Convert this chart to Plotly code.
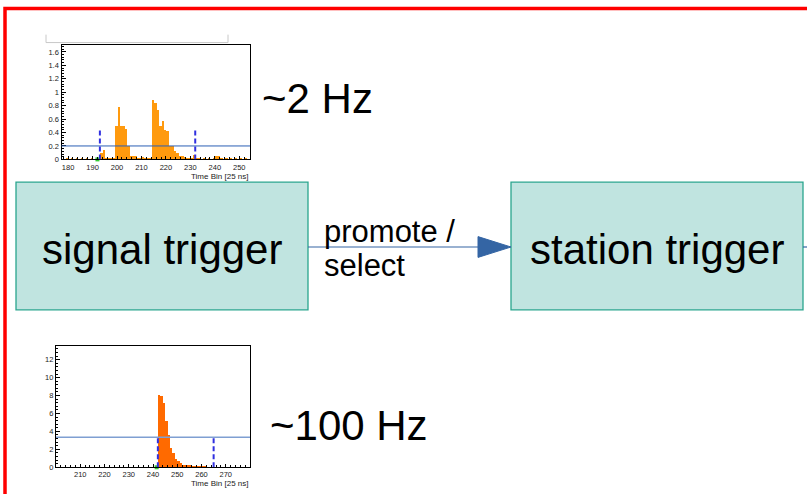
import plotly.graph_objects as go

# ---- data -------------------------------------------------------------
# upper histogram: signal-trigger trace (~2 Hz)
top_first_bin = 178
top_values = [
    0.01, 0.02, 0.01, 0.02, 0.01, 0.02, 0.01, 0.02, 0.01, 0.02,   # 178-187
    0.01, 0.02, 0.01, 0.01, 0.02, 0.10, 0.14, 0.02, 0.02, 0.02,   # 188-197
    0.03, 0.50, 0.78, 0.50, 0.50, 0.46, 0.20, 0.06, 0.05, 0.05,   # 198-207
    0.03, 0.02, 0.04, 0.03, 0.02, 0.02, 0.89, 0.84, 0.74, 0.50,   # 208-217
    0.58, 0.44, 0.43, 0.20, 0.20, 0.13, 0.10, 0.06, 0.05, 0.04,   # 218-227
    0.02, 0.02, 0.02, 0.07, 0.02, 0.02, 0.01, 0.02, 0.01, 0.02,   # 228-237
    0.01, 0.02, 0.05, 0.05, 0.02, 0.01, 0.02, 0.01, 0.02, 0.01,   # 238-247
    0.02, 0.01, 0.02, 0.01, 0.02, 0.01, 0.02,                     # 248-254
]
top_cuts = [193, 232]
top_cut_height = 0.45
top_threshold = 0.2
top_start_marker = 192
top_xrange = [177.3, 254.4]
top_yrange = [0, 1.71]
top_xticks = [180, 190, 200, 210, 220, 230, 240, 250]
top_yticks = [0, 0.2, 0.4, 0.6, 0.8, 1, 1.2, 1.4, 1.6]

# lower histogram: station-trigger trace (~100 Hz)
bot_first_bin = 242
bot_values = [8.0, 7.9, 7.1, 5.1, 3.5, 2.1, 1.5, 0.9, 0.6, 0.4,
              0.25, 0.15, 0.12, 0.10, 0.08, 0.06, 0.05, 0.04, 0.03, 0.02]
bot_cuts = [242, 265]
bot_cut_height = 3.5
bot_threshold = 3.35
bot_start_marker = 241.5
bot_xrange = [200, 280]
bot_yrange = [0, 13.47]
bot_xticks = [210, 220, 230, 240, 250, 260, 270]
bot_yticks = [0, 2, 4, 6, 8, 10, 12]

axis_title = "Time Bin [25 ns]"
rate_labels = ["~2 Hz", "~100 Hz"]
box_labels = ["signal trigger", "station trigger"]
arrow_label = ["promote /", "select"]

W, H = 807, 499
FONT = "Liberation Sans, Arial, sans-serif"

fig = go.Figure()

top_x = [top_first_bin + i + 0.5 for i in range(len(top_values))]
bot_x = [bot_first_bin + i + 0.5 for i in range(len(bot_values))]

fig.add_trace(go.Bar(x=top_x, y=top_values, width=1, marker=dict(color="#ff9a0e", line_width=0),
                     xaxis="x2", yaxis="y2", showlegend=False))
fig.add_trace(go.Bar(x=bot_x, y=bot_values, width=1, marker=dict(color="#ff6a00", line_width=0),
                     xaxis="x3", yaxis="y3", showlegend=False))
# start-of-window markers
fig.add_trace(go.Scatter(x=[top_start_marker], y=[0], mode="markers",
                         marker=dict(color="#33cc33", size=4, symbol="square"),
                         xaxis="x2", yaxis="y2", showlegend=False, cliponaxis=False))
fig.add_trace(go.Scatter(x=[bot_start_marker], y=[0], mode="markers",
                         marker=dict(color="#33cc33", size=4, symbol="square"),
                         xaxis="x3", yaxis="y3", showlegend=False, cliponaxis=False))

shapes = []
# threshold lines and window cuts
for xr, yr, thr, cuts, ch, tcol, tw in [
    ("x2", "y2", top_threshold, top_cuts, top_cut_height, "#2b5fb4", 1),
    ("x3", "y3", bot_threshold, bot_cuts, bot_cut_height, "#7f9fd2", 1.6),
]:
    shapes.append(dict(type="line", xref=xr + " domain", yref=yr, x0=0, x1=1, y0=thr, y1=thr,
                       line=dict(color=tcol, width=tw)))
    for c in cuts:
        shapes.append(dict(type="line", xref=xr, yref=yr, x0=c, x1=c, y0=0, y1=ch,
                           line=dict(color="#3030e0", width=2, dash="5px,3px")))

# page-level drawing (pixel coordinates on the base axes)
shapes += [
    # red frame
    dict(type="rect", xref="x", yref="y", x0=5, y0=8.5, x1=W + 40, y1=H + 40,
         line=dict(color="#ff0000", width=3.5), layer="below"),
    # grey bracket above the upper histogram
    dict(type="path", xref="x", yref="y", path="M46,35 L46,43 L228,43 L228,35",
         line=dict(color="#c8c8c8", width=1)),
    # trigger boxes
    dict(type="rect", xref="x", yref="y", x0=16, y0=184, x1=308, y1=313,
         fillcolor="#c0e4e0", line=dict(color="#2aa58e", width=1.3)),
    dict(type="rect", xref="x", yref="y", x0=511, y0=184, x1=803, y1=313,
         fillcolor="#c0e4e0", line=dict(color="#2aa58e", width=1.3)),
    # connecting arrow
    dict(type="line", xref="x", yref="y", x0=308, x1=479, y0=249.5, y1=249.5,
         line=dict(color="#3465a4", width=1.2)),
    dict(type="path", xref="x", yref="y", path="M478,239 L511,249.5 L478,260 Z",
         fillcolor="#3465a4", line=dict(color="#3465a4", width=1)),
    dict(type="line", xref="x", yref="y", x0=803, x1=W + 5, y0=249.5, y1=249.5,
         line=dict(color="#3465a4", width=1.2)),
]


def label(x, y, text, size, xanchor="left", color="#000"):
    return dict(xref="x", yref="y", x=x, y=y, text=text, showarrow=False,
                font=dict(family=FONT, size=size, color=color),
                xanchor=xanchor, yanchor="middle")


annotations = [
    label(162, 252, box_labels[0], 42, "center"),
    label(657, 252, box_labels[1], 42, "center"),
    label(322, 234, arrow_label[0], 31),
    label(322, 268, arrow_label[1], 31),
    label(260, 99, rate_labels[0], 42),
    label(268, 430, rate_labels[1], 42),
    label(251, 178, axis_title, 8, "right", "#222"),
    label(251, 488, axis_title, 8, "right", "#222"),
]


def hist_axes(xdom, ydom, xr, yr, xt, yt, ydminor, anchor_x, anchor_y):
    tickfont = dict(family=FONT, size=7.5, color="#222")
    xa = dict(domain=xdom, range=xr, anchor=anchor_y, tickvals=xt, ticks="inside", ticklen=3,
              tickcolor="black", tickwidth=1, showline=True, linecolor="black", linewidth=1.3,
              mirror=True, showgrid=False, zeroline=False, tickfont=tickfont, ticklabelstandoff=0,
              minor=dict(dtick=2, tick0=0, ticks="inside", ticklen=2, tickcolor="black"))
    ya = dict(domain=ydom, range=yr, anchor=anchor_x, tickvals=yt, ticks="inside", ticklen=4,
              tickcolor="black", tickwidth=1, showline=True, linecolor="black", linewidth=1.3,
              mirror=True, showgrid=False, zeroline=False, tickfont=tickfont,
              minor=dict(dtick=ydminor, tick0=0, ticks="inside", ticklen=2, tickcolor="black"))
    return xa, ya


def px_dom(a, b, total, flip=False):
    if flip:
        return [1 - b / total, 1 - a / total]
    return [a / total, b / total]


xa2, ya2 = hist_axes(px_dom(61.5, 250, W), px_dom(45, 161, H, True), top_xrange, top_yrange,
                     top_xticks, top_yticks, 0.04, "x2", "y2")
xa3, ya3 = hist_axes(px_dom(56, 250, W), px_dom(350, 472, H, True), bot_xrange, bot_yrange,
                     bot_xticks, bot_yticks, 0.4, "x3", "y3")

fig.update_layout(
    width=W, height=H, margin=dict(l=0, r=0, t=0, b=0),
    paper_bgcolor="white", plot_bgcolor="white", bargap=0, showlegend=False,
    xaxis=dict(domain=[0, 1], range=[0, W], visible=False, fixedrange=True),
    yaxis=dict(domain=[0, 1], range=[H, 0], visible=False, fixedrange=True),
    xaxis2=xa2, yaxis2=ya2, xaxis3=xa3, yaxis3=ya3,
    shapes=shapes, annotations=annotations,
)

fig.write_html("out.html")
